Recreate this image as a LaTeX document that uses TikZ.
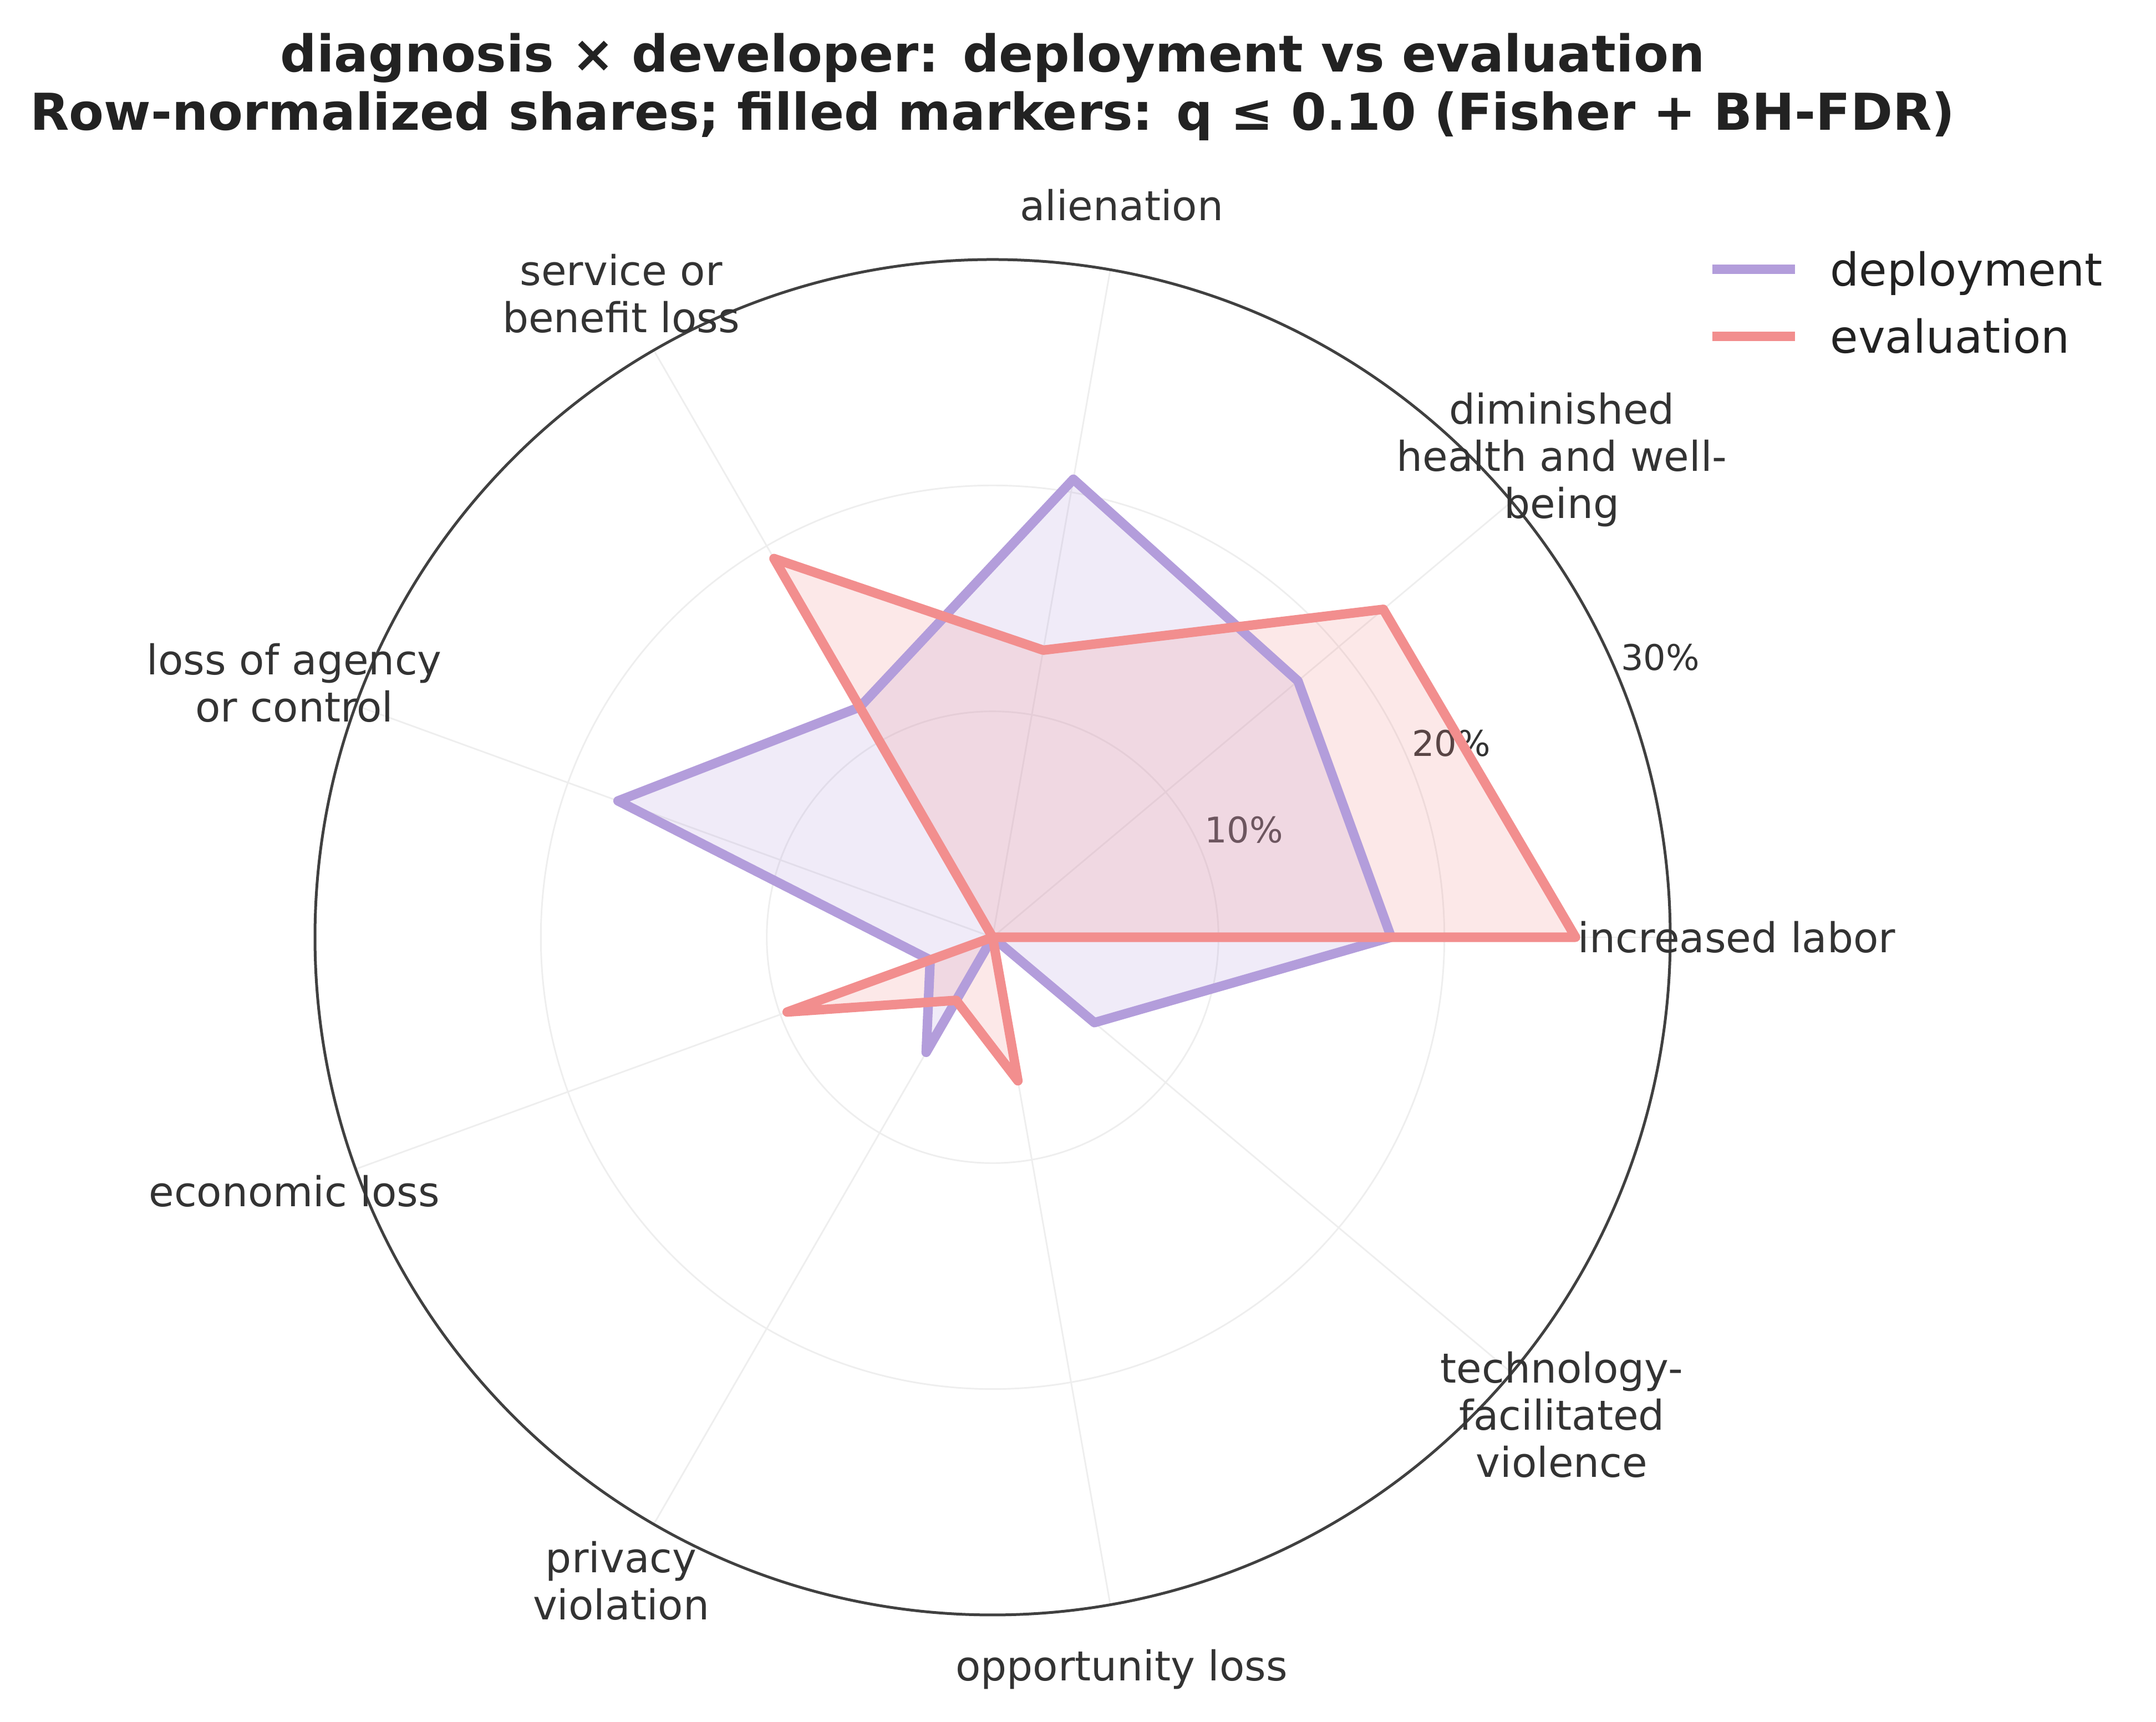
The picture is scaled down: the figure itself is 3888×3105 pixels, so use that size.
\documentclass[tikz,border=0pt]{standalone}
\usepackage{fontspec}
\setmainfont{DejaVu Sans}
\definecolor{depc}{RGB}{179,157,219}
\definecolor{evac}{RGB}{242,142,142}
\definecolor{gridc}{RGB}{238,238,238}
\definecolor{spinec}{RGB}{64,64,64}
\definecolor{labc}{RGB}{51,51,51}
\definecolor{titc}{RGB}{34,34,34}
\begin{document}
\begin{tikzpicture}[x=0.24pt,y=0.24pt,
  catlabel/.style={font=\fontsize{17.8}{20.4}\selectfont, text=labc, align=center, inner sep=0pt},
  ticklabel/.style={font=\fontsize{15.3}{18}\selectfont, text=labc, inner sep=0pt},
  titlelabel/.style={font=\fontsize{22}{26}\selectfont\bfseries, text=titc, inner sep=0pt, anchor=base},
  legendlabel/.style={font=\fontsize{19.7}{23}\selectfont, text=titc, inner sep=0pt, anchor=base west},
  gridline/.style={draw=gridc, line width=0.7pt},
  series/.style={line width=4.1pt, line join=round, line cap=round},
  legendline/.style={line width=4.1pt, line cap=butt},
]
\useasboundingbox (0,0) rectangle (3888,3105);
% title
\node[titlelabel] (title1) at (1790,2975) {diagnosis × developer: deployment vs evaluation};
\node[titlelabel] (title2) at (1790,2870) {Row-normalized shares; filled markers: q ≤ 0.10 (Fisher + BH-FDR)};
\begin{scope}[shift={(1790,1415)}]
  \coordinate (O) at (0,0);
  % grid
  \draw[gridline] (O) circle[radius=407.3];
  \draw[gridline] (O) circle[radius=814.7];
  \foreach \a in {0,40,...,320} \draw[gridline] (O) -- (\a:1222);
  % tick labels
  \node[ticklabel] (t10) at (453,194) {10\%};
  \node[ticklabel] (t20) at (827,350) {20\%};
  \node[ticklabel] (t30) at (1204,505) {30\%};
  % fills
  \path[fill=depc, fill opacity=0.2] (0:718.8) -- (40:718.8) -- (80:838.6) -- (120:479.2) -- (160:718.8) -- (200:119.8) -- (240:239.6) -- (280:0) -- (320:239.6) -- cycle;
  \path[fill=evac, fill opacity=0.2] (0:1051.2) -- (40:919.8) -- (80:525.6) -- (120:788.4) -- (160:0) -- (200:394.2) -- (240:131.4) -- (280:262.8) -- (320:0) -- cycle;
  % lines
  \draw[series, depc] (0:718.8) -- (40:718.8) -- (80:838.6) -- (120:479.2) -- (160:718.8) -- (200:119.8) -- (240:239.6) -- (280:0) -- (320:239.6) -- cycle;
  \draw[series, evac] (0:1051.2) -- (40:919.8) -- (80:525.6) -- (120:788.4) -- (160:0) -- (200:394.2) -- (240:131.4) -- (280:262.8) -- (320:0) -- cycle;
  % outer spine
  \draw[spinec, line width=1.2pt] (O) circle[radius=1222];
  % category labels
  \node[catlabel] (c0) at (0:1342) {increased labor};
  \node[catlabel] (c1) at (40:1340) {diminished\\health and well-\\being};
  \node[catlabel] (c2) at (80:1340) {alienation};
  \node[catlabel] (c3) at (120:1340) {service or\\benefit loss};
  \node[catlabel] (c4) at (160:1340) {loss of agency\\or control};
  \node[catlabel] (c5) at (200:1340) {economic loss};
  \node[catlabel] (c6) at (240:1340) {privacy\\violation};
  \node[catlabel] (c7) at (280:1340) {opportunity loss};
  \node[catlabel] (c8) at (320:1340) {technology-\\facilitated\\violence};
\end{scope}
% legend
\coordinate (l1a) at (3088,2619);
\coordinate (l1b) at (3237,2619);
\coordinate (l2a) at (3088,2498);
\coordinate (l2b) at (3237,2498);
\draw[legendline, depc] (l1a) -- (l1b);
\draw[legendline, evac] (l2a) -- (l2b);
\node[legendlabel] (leg1) at (3300,2589) {deployment};
\node[legendlabel] (leg2) at (3300,2468) {evaluation};
\end{tikzpicture}
\end{document}
